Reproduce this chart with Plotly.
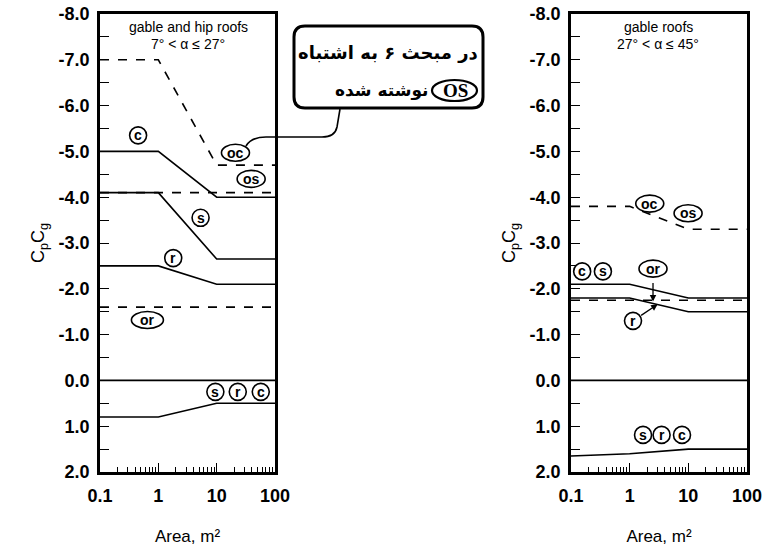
import numpy as np
import plotly.graph_objects as go

W, H = 762, 546

# Area breakpoints (m^2) shared by every curve
AREA = [0.1, 1, 10, 100]

# Left panel: gable and hip roofs, 7° < α ≤ 27°
LEFT_C = [-5.0, -5.0, -4.0, -4.0]
LEFT_S = [-4.1, -4.1, -2.65, -2.65]
LEFT_R = [-2.5, -2.5, -2.1, -2.1]
LEFT_ZERO = [0.0, 0.0, 0.0, 0.0]
LEFT_POS = [0.8, 0.8, 0.5, 0.5]
LEFT_OC = [-7.0, -7.0, -4.7, -4.7]
LEFT_OS = [-4.1, -4.1, -4.1, -4.1]
LEFT_OR = [-1.6, -1.6, -1.6, -1.6]

# Right panel: gable roofs, 27° < α ≤ 45°
RIGHT_CS = [-2.1, -2.1, -1.8, -1.8]
RIGHT_R = [-1.8, -1.8, -1.5, -1.5]
RIGHT_ZERO = [0.0, 0.0, 0.0, 0.0]
RIGHT_POS = [1.65, 1.6, 1.5, 1.5]
RIGHT_OCS = [-3.8, -3.8, -3.3, -3.3]
RIGHT_OR = [-1.75, -1.75, -1.75, -1.75]

# Axis ticks
X_TICKS = [0.1, 1, 10, 100]
X_TICKTEXT = ['0.1', '1', '10', '100']
X_MINOR = [m * d for d in (0.1, 1, 10) for m in range(2, 10)]
Y_TICKS = [-8, -7, -6, -5, -4, -3, -2, -1, 0, 1, 2]
Y_TICKTEXT = ['-8.0', '-7.0', '-6.0', '-5.0', '-4.0', '-3.0', '-2.0', '-1.0', '0.0', '1.0', '2.0']

# Circled zone labels: (text, area, CpCg, panel)
LABELS = [
    ('c', 0.45, -5.35, 1), ('oc', 21, -4.97, 1), ('os', 39, -4.4, 1),
    ('s', 5.3, -3.55, 1), ('r', 1.8, -2.67, 1), ('or', 0.65, -1.32, 1),
    ('s', 9.5, 0.25, 1), ('r', 23, 0.25, 1), ('c', 57, 0.25, 1),
    ('oc', 2.2, -3.86, 2), ('os', 9.9, -3.65, 2), ('c', 0.155, -2.38, 2),
    ('s', 0.35, -2.38, 2), ('or', 2.5, -2.44, 2), ('r', 1.14, -1.3, 2),
    ('s', 1.69, 1.19, 2), ('r', 3.5, 1.19, 2), ('c', 7.8, 1.19, 2),
]

FONT = 'Liberation Sans, Arial, sans-serif'

# Page-pixel frame of each panel: left, right, top, bottom
FRAMES = {1: (100, 275, 14, 472), 2: (571, 747, 14, 472)}


def px(x, y):
    ''' Convert page pixels to paper coordinates (margins are zero) '''
    return x / W, 1 - y / H


def data_px(a, v, n):
    ''' Page pixel position of a data point in panel n '''
    l, r, t, b = FRAMES[n]
    xp = l + (np.log10(a) + 1) / 3 * (r - l)
    yp = t + (v + 8) / 10 * (b - t)
    return xp, yp


def paper_text(txt, x, y, font, xanchor='center'):
    ''' Text annotation placed in page pixels '''
    xx, yy = px(x, y)
    return dict(text=txt, x=xx, y=yy, xref='paper', yref='paper', showarrow=False,
                xanchor=xanchor, yanchor='middle', font=font)


fig = go.Figure()

panels = [
    (1, [(LEFT_C, 'solid'), (LEFT_S, 'solid'), (LEFT_R, 'solid'), (LEFT_ZERO, 'solid'),
         (LEFT_POS, 'solid'), (LEFT_OC, 'dash'), (LEFT_OS, 'dash'), (LEFT_OR, 'dash')]),
    (2, [(RIGHT_CS, 'solid'), (RIGHT_R, 'solid'), (RIGHT_ZERO, 'solid'), (RIGHT_POS, 'solid'),
         (RIGHT_OCS, 'dash'), (RIGHT_OR, 'dash')]),
]
for n, series in panels:
    for vals, dash in series:
        fig.add_trace(go.Scatter(
            x=AREA, y=vals, mode='lines',
            line=dict(color='black', width=1.6, dash=dash),
            xaxis='x' if n == 1 else 'x2', yaxis='y' if n == 1 else 'y2',
            showlegend=False, hoverinfo='skip'
        ))

# Axes styling shared by both panels
xstyle = dict(
    type='log', range=[-1, 2], tickvals=X_TICKS, ticktext=X_TICKTEXT,
    ticks='inside', ticklen=9, tickwidth=1.3, tickcolor='black',
    minor=dict(tickvals=X_MINOR, ticks='inside', ticklen=5, tickwidth=1.2, tickcolor='black'),
    showline=True, linecolor='black', linewidth=2.5, mirror=True,
    showgrid=False, zeroline=False, automargin=False, ticklabeloverflow='allow',
    tickfont=dict(family=FONT, size=18, color='black', weight='bold'), ticklabelstandoff=6,
    title=dict(text='Area, m²', font=dict(family=FONT, size=17, color='black'), standoff=26),
)
ystyle = dict(
    range=[2, -8], tickvals=Y_TICKS, ticktext=Y_TICKTEXT,
    ticks='inside', ticklen=9, tickwidth=1.3, tickcolor='black',
    minor=dict(dtick=0.5, ticks='inside', ticklen=9, tickwidth=1.3, tickcolor='black'),
    showline=True, linecolor='black', linewidth=2.5, mirror=True,
    showgrid=False, zeroline=False, automargin=False, ticklabeloverflow='allow',
    tickfont=dict(family=FONT, size=18, color='black', weight='bold'), ticklabelstandoff=4,
    title=dict(text='C<sub>p</sub>C<sub>g</sub>', font=dict(family=FONT, size=18, color='black'), standoff=10),
)
fig.update_layout(
    xaxis=dict(xstyle, domain=[px(100, 0)[0], px(275, 0)[0]], anchor='y'),
    yaxis=dict(ystyle, domain=[px(0, 472)[1], px(0, 14)[1]], anchor='x'),
    xaxis2=dict(xstyle, domain=[px(571, 0)[0], px(747, 0)[0]], anchor='y2'),
    yaxis2=dict(ystyle, domain=[px(0, 472)[1], px(0, 14)[1]], anchor='x2'),
)

annotations = []
shapes = []

# Panel titles
title_font = dict(family=FONT, size=14, color='black')
for cx, line1, line2 in [(188, 'gable and hip roofs', '7° < α ≤ 27°'), (658, 'gable roofs', '27° < α ≤ 45°')]:
    annotations.append(paper_text(line1, cx, 27, title_font))
    annotations.append(paper_text(line2, cx, 44, title_font))

# Circled labels
for txt, a, v, n in LABELS:
    xr, yr = ('x', 'y') if n == 1 else ('x2', 'y2')
    w = 8.5 if len(txt) == 1 else (16 if txt == 'or' and n == 1 else 14)
    h = 8.5
    cx, cy = data_px(a, v, n)
    x0, y0 = px(cx - w, cy + h)
    x1, y1 = px(cx + w, cy - h)
    shapes.append(dict(type='circle', xref='paper', yref='paper', x0=x0, x1=x1, y0=y0, y1=y1,
                       line=dict(color='black', width=1.6), fillcolor='white'))
    annotations.append(dict(text=txt, x=np.log10(a), y=v, xref=xr, yref=yr, showarrow=False,
                            xanchor='center', yanchor='middle',
                            font=dict(family=FONT, size=14, color='black', weight='bold')))

# Arrows in right panel from "or" and "r" to their curves
annotations.append(dict(x=np.log10(2.5), y=-1.72, xref='x2', yref='y2', text='', showarrow=True,
                        arrowhead=2, arrowsize=1, arrowwidth=1.3, arrowcolor='black', ax=0, ay=-20))
annotations.append(dict(x=np.log10(3.0), y=-1.66, xref='x2', yref='y2', text='', showarrow=True,
                        arrowhead=2, arrowsize=1, arrowwidth=1.3, arrowcolor='black', ax=-18, ay=12))


def path(points_cmds):
    out = []
    for cmd, pts in points_cmds:
        coords = ' '.join('%.5f,%.5f' % px(x, y) for x, y in pts)
        out.append(cmd + ' ' + coords)
    return ' '.join(out)


# Callout box (rounded rectangle) and connector to the "oc" label
L, T, R, B, r = 294, 26, 483, 108, 11
box = path([('M', [(L + r, T)]), ('L', [(R - r, T)]), ('Q', [(R, T), (R, T + r)]),
            ('L', [(R, B - r)]), ('Q', [(R, B), (R - r, B)]), ('L', [(L + r, B)]),
            ('Q', [(L, B), (L, B - r)]), ('L', [(L, T + r)]), ('Q', [(L, T), (L + r, T)])]) + ' Z'
shapes.append(dict(type='path', xref='paper', yref='paper', path=box,
                   line=dict(color='black', width=3), fillcolor='white'))
conn = path([('M', [(340, 109)]), ('L', [(337, 127)]), ('Q', [(335, 137), (322, 137)]),
             ('L', [(266, 137)]), ('Q', [(251, 137), (246, 146)])])
shapes.append(dict(type='path', xref='paper', yref='paper', path=conn, line=dict(color='black', width=1.6)))

fa_font = dict(family='DejaVu Sans', size=18, color='black', weight='bold')
annotations.append(paper_text('در مبحث ۶ به اشتباه', 388, 53, fa_font))
annotations.append(paper_text('نوشته شده', 431, 91, dict(fa_font, size=17), xanchor='right'))
x0, y0 = px(432, 101)
x1, y1 = px(477, 80)
shapes.append(dict(type='circle', xref='paper', yref='paper', x0=x0, x1=x1, y0=y0, y1=y1,
                   line=dict(color='black', width=2.2)))
annotations.append(paper_text('OS', 455, 91, dict(family='Liberation Serif, Times New Roman, serif',
                                                 size=19, color='black', weight='bold')))

fig.update_layout(
    width=W, height=H,
    margin=dict(l=0, r=0, t=0, b=0),
    paper_bgcolor='white', plot_bgcolor='white',
    shapes=shapes, annotations=annotations,
    showlegend=False,
)

# The page body has a default 8px margin; drop it so the figure fills the window
fig.write_html("out.html", config={'displayModeBar': False},
               post_script="document.body.style.margin = '0';")
